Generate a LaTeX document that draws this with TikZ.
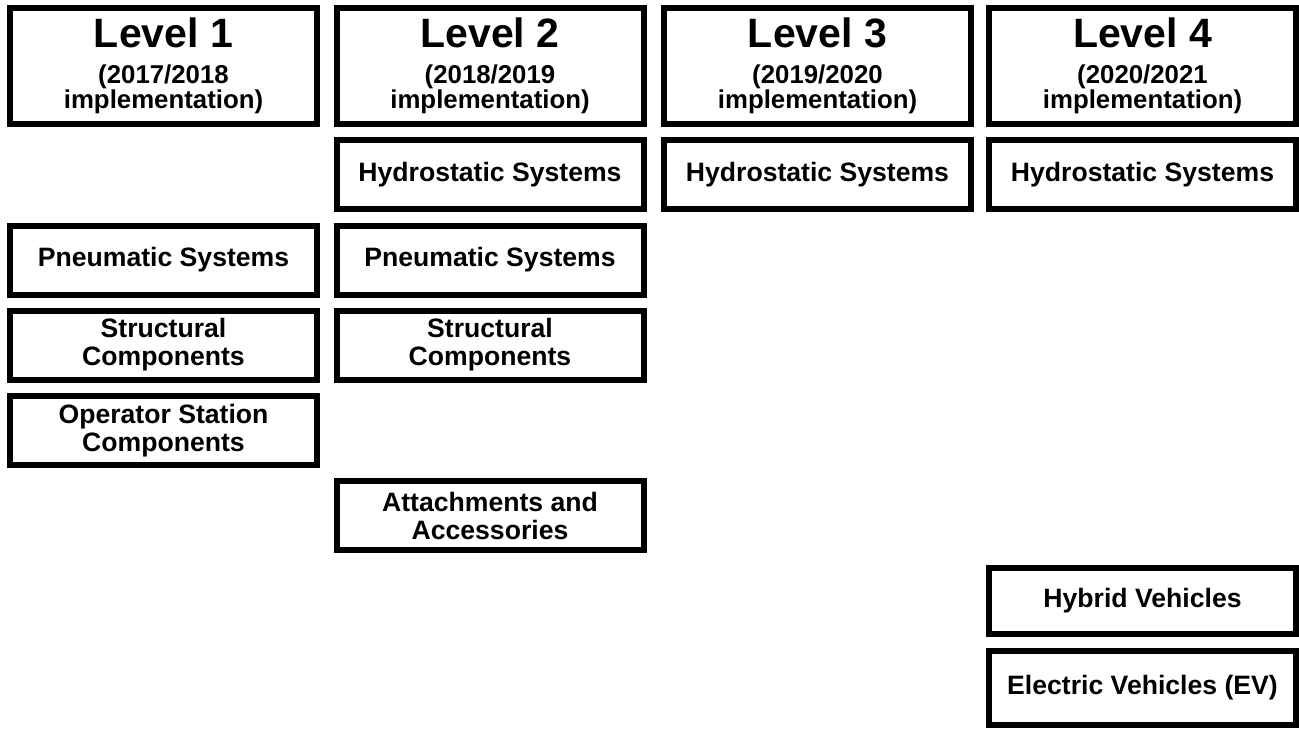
\documentclass[tikz,border=0pt]{standalone}
\usepackage{fontspec}
\setmainfont{Liberation Sans}
\newcommand{\tightlines}{\setlength{\lineskiplimit}{-20pt}}
\newcommand{\lvlhead}[2]{{\fontsize{20.5}{24}\selectfont Level #1}\\[5.8pt](#2\\implementation)}
\begin{document}
\begin{tikzpicture}[x=0.5pt,y=-0.5pt,
  lvlbox/.style={draw,line width=3pt,minimum width=153.5pt,minimum height=58pt,inner sep=0pt,
    align=center,font=\bfseries\fontsize{12.9}{12.2}\selectfont\tightlines},
  itembox/.style={draw,line width=3pt,minimum width=153.5pt,minimum height=34.5pt,inner sep=0pt,
    align=center,font=\bfseries\fontsize{13.3}{14}\selectfont}]
\useasboundingbox (0,0) rectangle (1299,730);
% level headers
\node[lvlbox] (lev1) at (163.5,66) {\lvlhead{1}{2017/2018}};
\node[lvlbox] (lev2) at (490,66) {\lvlhead{2}{2018/2019}};
\node[lvlbox] (lev3) at (817.5,66) {\lvlhead{3}{2019/2020}};
\node[lvlbox] (lev4) at (1142.5,66) {\lvlhead{4}{2020/2021}};
% level 1
\node[itembox] (pneu1) at (163.5,260) {Pneumatic Systems};
\node[itembox] (struc1) at (163.5,345) {Structural\\Components};
\node[itembox] (oper1) at (163.5,430.5) {Operator Station\\Components};
% level 2
\node[itembox] (hyd2) at (490,174.5) {Hydrostatic Systems};
\node[itembox] (pneu2) at (490,260) {Pneumatic Systems};
\node[itembox] (struc2) at (490,345) {Structural\\Components};
\node[itembox] (attach2) at (490,515.5) {Attachments and\\Accessories};
% level 3
\node[itembox] (hyd3) at (817.5,174.5) {Hydrostatic Systems};
% level 4
\node[itembox] (hyd4) at (1142.5,174.5) {Hydrostatic Systems};
\node[itembox,minimum height=33pt] (hybrid4) at (1142.5,601) {Hybrid Vehicles};
\node[itembox,minimum height=37pt] (elec4) at (1142.5,688) {Electric Vehicles (EV)};
\end{tikzpicture}
\end{document}
